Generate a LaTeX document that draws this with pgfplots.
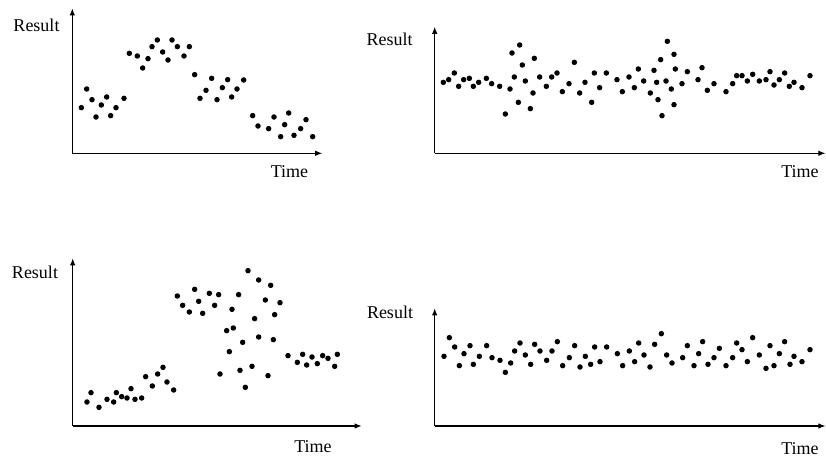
\documentclass[border=0pt]{standalone}
\usepackage{pgfplots}
\pgfplotsset{compat=1.18}
\usepackage{pgfplotstable}
\usepackage{fontspec}
\setmainfont{Liberation Serif}
\usetikzlibrary{arrows.meta}

% dot positions (3x zoom pixel coordinates)
\pgfplotstableread{
zx zy
64 263
80 207
96 239
108 291
124 255
140 231
152 287
168 263
192 235
208 100
232 108
248 144
264 116
276 80
292 60
308 96
324 120
336 60
352 80
372 108
388 80
404 164
420 235
438 211
455 175
471 239
487 203
503 179
515 231
531 207
551 180
578 287
594 318
626 326
642 291
662 350
674 314
686 279
702 346
722 326
738 299
758 350
}\dataA

\pgfplotstableread{
zx zy
70 187
86 179
103 159
116 199
131 179
148 175
160 199
176 187
199 175
215 191
239 199
256 282
270 207
276 99
283 171
295 247
299 75
307 135
316 183
331 266
339 219
343 115
359 171
379 199
395 171
411 159
427 215
447 191
463 127
479 219
495 187
515 247
523 159
539 203
559 159
591 179
607 215
627 171
643 203
655 147
671 183
691 219
702 151
710 187
714 239
722 119
726 287
738 183
742 64
754 207
762 103
762 254
766 147
786 191
802 155
834 179
846 143
862 211
882 191
918 215
938 191
950 167
966 167
982 183
998 163
1018 183
1038 179
1050 155
1062 195
1078 179
1094 159
1108 199
1122 187
1146 203
1170 167
}\dataB

\pgfplotstableread{
zx zy
81 456
93 428
117 472
141 448
161 456
169 428
185 440
201 444
213 416
225 448
245 444
257 380
277 408
293 372
309 352
321 396
341 420
352 138
368 166
388 186
404 118
416 154
428 190
448 130
464 166
476 134
480 372
500 242
508 305
516 178
520 234
536 134
540 361
548 277
556 412
564 62
576 349
584 206
596 90
596 261
616 150
624 377
632 106
640 269
644 194
660 158
684 317
712 337
728 313
740 345
756 321
772 341
788 317
804 325
824 349
832 313
}\dataC

\pgfplotstableread{
zx zy
72 229
88 173
104 201
118 257
132 221
150 197
160 253
178 229
200 197
216 233
240 241
256 277
272 249
284 213
300 189
316 225
332 253
344 193
360 213
380 241
396 213
412 185
428 257
448 233
464 197
480 261
496 229
512 253
524 201
540 245
560 201
592 221
608 257
628 213
644 245
656 189
672 225
690 261
704 193
724 161
740 225
756 249
788 233
802 197
822 257
836 221
848 185
864 253
882 233
898 205
918 257
938 233
950 189
966 209
982 245
998 173
1018 225
1038 265
1050 197
1062 257
1078 221
1094 185
1110 253
1122 229
1146 245
1170 209
}\dataD

\pgfplotsset{
  panel/.style={
    x=0.5pt, y=0.5pt,
    anchor=south west,
    axis lines=left,
    axis line style={line width=0.55pt, -{Latex[length=3.6pt,width=2.8pt]}},
    xtick=\empty, ytick=\empty,
    clip=false,
  },
  dots/.style={only marks, mark=*, mark size=1.15pt, black},
}

\begin{document}
\begin{tikzpicture}
\useasboundingbox (0,0) rectangle (413pt,-229pt);
\begin{axis}[panel, at={(36.15pt,-76.65pt)},
  xmin=72.3, xmax=322.3, ymin=-153.3, ymax=-8.3]
\addplot[dots] table[x expr=\thisrow{zx}/3+60, y expr=-(\thisrow{zy}/3+20)] {\dataA};
\end{axis}
\begin{axis}[panel, at={(217.35pt,-76.65pt)},
  xmin=434.7, xmax=825.5, ymin=-153.3, ymax=-26.7]
\addplot[dots] table[x expr=\thisrow{zx}/3+420, y expr=-(\thisrow{zy}/3+20)] {\dataB};
\end{axis}
\begin{axis}[panel, at={(36.35pt,-213pt)},
  xmin=72.7, xmax=361.7, ymin=-426, ymax=-258.3]
\addplot[dots] table[x expr=\thisrow{zx}/3+60, y expr=-(\thisrow{zy}/3+250)] {\dataC};
\end{axis}
\begin{axis}[panel, at={(217.35pt,-213pt)},
  xmin=434.7, xmax=825.5, ymin=-426, ymax=-308.3]
\addplot[dots] table[x expr=\thisrow{zx}/3+420, y expr=-(\thisrow{zy}/3+280)] {\dataD};
\end{axis}
\begin{scope}[every node/.style={font=\fontsize{9}{10}\selectfont, inner sep=0pt}]
\node at (18.25pt,-12.5pt) {Result};
\node at (144.75pt,-85.85pt) {Time};
\node at (194.85pt,-19.65pt) {Result};
\node at (400pt,-85.85pt) {Time};
\node at (17.5pt,-136.35pt) {Result};
\node at (156.5pt,-223.5pt) {Time};
\node at (195pt,-156.35pt) {Result};
\node at (400pt,-224.4pt) {Time};
\end{scope}
\end{tikzpicture}
\end{document}
